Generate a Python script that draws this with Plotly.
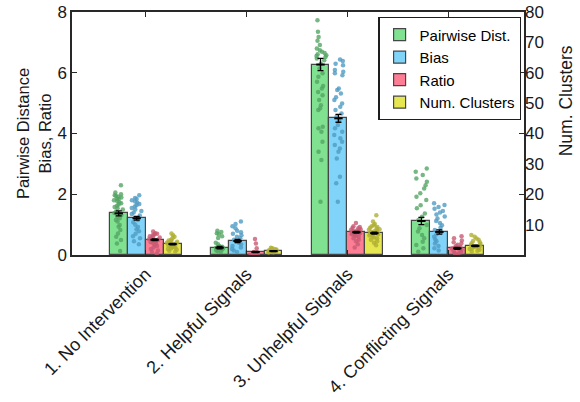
import plotly.graph_objects as go

categories = ["1. No Intervention", "2. Helpful Signals", "3. Unhelpful Signals", "4. Conflicting Signals"]
series_names = ["Pairwise Dist.", "Bias", "Ratio", "Num. Clusters"]

# bar means
pairwise_mean = [1.37, 0.24, 6.27, 1.12]
bias_mean = [1.21, 0.46, 4.50, 0.76]
ratio_mean = [0.50, 0.10, 0.75, 0.22]
clusters_mean = [3.6, 1.3, 7.2, 3.0]

# standard errors
pairwise_err = [0.08, 0.04, 0.20, 0.12]
bias_err = [0.06, 0.05, 0.13, 0.07]
ratio_err = [0.03, 0.02, 0.03, 0.03]
clusters_err = [0.25, 0.15, 0.3, 0.25]

# individual observations per category
pairwise_pts = [
    [2.30, 2.06, 2.00, 1.97, 1.95, 1.92, 1.89, 1.86, 1.84, 1.80, 1.78, 1.74, 1.70, 1.66, 1.62, 1.58, 1.54, 1.50,
     1.43, 1.38, 1.32, 1.26, 1.21, 1.15, 1.10, 0.99, 0.93, 0.82, 0.71, 0.60, 0.49, 0.38, 0.13],
    [0.80, 0.76, 0.72, 0.68, 0.62, 0.56, 0.40, 0.35, 0.30, 0.27, 0.24, 0.22, 0.20, 0.18, 0.15, 0.12, 0.10],
    [7.73, 7.35, 7.18, 7.05, 6.91, 6.80, 6.74, 6.69, 6.65, 6.61, 6.58, 6.55, 6.52, 6.47, 6.41, 6.30, 6.14, 5.98,
     5.87, 5.70, 5.56, 5.48, 5.37, 5.26, 5.10, 4.93, 4.83, 4.77, 4.22, 4.17, 4.06, 3.73, 3.40, 3.13, 1.75],
    [2.85, 2.74, 2.63, 2.52, 2.41, 2.30, 2.19, 2.03, 1.92, 1.81, 1.64, 1.54, 1.37, 1.26, 1.15, 0.99, 0.88, 0.77,
     0.66, 0.55, 0.44, 0.33, 0.22, 0.11],
]
bias_pts = [
    [1.97, 1.88, 1.84, 1.80, 1.76, 1.72, 1.68, 1.64, 1.60, 1.55, 1.50, 1.45, 1.40, 1.35, 1.30, 1.22, 1.15, 1.08,
     1.00, 0.92, 0.85, 0.78, 0.70, 0.62, 0.55, 0.45, 0.35],
    [1.10, 1.02, 0.95, 0.88, 0.80, 0.75, 0.70, 0.65, 0.60, 0.55, 0.50, 0.45, 0.40, 0.35, 0.30, 0.25, 0.20, 0.15, 0.10],
    [6.44, 6.39, 6.30, 6.25, 6.09, 6.03, 5.98, 5.92, 5.48, 5.43, 5.32, 5.19, 5.10, 4.99, 4.88, 4.77, 4.66, 4.55,
     4.44, 4.28, 4.17, 4.06, 3.95, 3.84, 3.73, 3.62, 3.51, 3.40, 3.18, 2.58, 2.36, 1.75],
    [1.70, 1.65, 1.58, 1.52, 1.45, 1.40, 1.33, 1.27, 1.20, 1.12, 1.05, 0.98, 0.90, 0.82, 0.75, 0.68, 0.60, 0.52,
     0.45, 0.38, 0.30, 0.22, 0.15],
]
ratio_pts = [
    [0.77, 0.72, 0.70, 0.68, 0.65, 0.62, 0.60, 0.58, 0.55, 0.52, 0.50, 0.48, 0.45, 0.42, 0.40, 0.37, 0.33, 0.30,
     0.25, 0.20, 0.15, 0.10, 0.05],
    [0.53, 0.38, 0.22, 0.10, 0.08, 0.06, 0.05, 0.04, 0.03, 0.02, 0.02, 0.01],
    [1.05, 0.95, 0.92, 0.90, 0.88, 0.85, 0.83, 0.82, 0.80, 0.78, 0.76, 0.75, 0.74, 0.72, 0.70, 0.68, 0.66, 0.63,
     0.60, 0.55, 0.50, 0.45, 0.35, 0.25],
    [0.62, 0.55, 0.48, 0.42, 0.38, 0.34, 0.30, 0.27, 0.24, 0.21, 0.18, 0.15, 0.12, 0.09, 0.06, 0.03],
]
clusters_pts = [
    [7.1, 6.5, 6.0, 5.5, 5.0, 4.8, 4.6, 4.4, 4.2, 4.0, 3.8, 3.6, 3.4, 3.2, 3.0, 2.8, 2.6, 2.4, 2.2, 2.0, 1.7, 1.4, 1.1],
    [2.4, 2.2, 2.0, 1.8, 1.6, 1.5, 1.4, 1.3, 1.2, 1.1, 1.0, 0.9, 0.8],
    [13.1, 11.0, 10.2, 9.8, 9.5, 9.2, 9.0, 8.7, 8.5, 8.3, 8.0, 7.8, 7.6, 7.4, 7.2, 7.0, 6.8, 6.6, 6.4, 6.1, 5.8,
     5.5, 5.0, 4.5, 4.0, 3.2],
    [6.6, 6.0, 5.4, 5.0, 4.6, 4.2, 3.9, 3.6, 3.3, 3.0, 2.8, 2.6, 2.4, 2.2, 2.0, 1.7, 1.4, 1.1],
]

left_ticks = [0, 2, 4, 6, 8]
right_ticks = [10, 20, 30, 40, 50, 60, 70, 80]

fills = ["rgb(128,225,145)", "rgb(128,212,250)", "rgb(252,125,148)", "rgb(230,230,80)"]
dots = ["rgba(85,165,100,0.8)", "rgba(80,155,195,0.8)", "rgba(200,90,115,0.8)", "rgba(175,175,50,0.8)"]

means = [pairwise_mean, bias_mean, ratio_mean, clusters_mean]
errs = [pairwise_err, bias_err, ratio_err, clusters_err]
pts = [pairwise_pts, bias_pts, ratio_pts, clusters_pts]
axes = ["y", "y", "y", "y2"]

bw = 0.178
offsets = [-2 * bw, -bw, 0.0, bw]
xc = [1, 2, 3, 4]

fig = go.Figure()
for k in range(4):
    fig.add_trace(go.Bar(
        x=xc, y=means[k], name=series_names[k], yaxis=axes[k],
        width=bw, offset=offsets[k],
        marker=dict(color=fills[k], line=dict(color="rgb(70,70,70)", width=1.2)),
    ))

for k in range(4):
    bx, by = [], []
    for i in range(4):
        for v in pts[k][i]:
            bx.append(xc[i] + offsets[k] + bw / 2)
            by.append(v)
    fig.add_trace(go.Box(
        x=bx, y=by, yaxis=axes[k], boxpoints="all", jitter=0.9, pointpos=0,
        width=0.13, line=dict(width=0, color="rgba(0,0,0,0)"), fillcolor="rgba(0,0,0,0)",
        marker=dict(color=dots[k], size=4.5), showlegend=False, hoverinfo="skip",
    ))

for k in range(4):
    fig.add_trace(go.Scatter(
        x=[xc[i] + offsets[k] + bw / 2 for i in range(4)], y=means[k], yaxis=axes[k],
        mode="markers", marker=dict(symbol="line-ew", size=6, line=dict(color="black", width=2)),
        error_y=dict(type="data", array=errs[k], color="black", thickness=1.3, width=3),
        showlegend=False, hoverinfo="skip",
    ))

font = "Liberation Sans, Arial, sans-serif"
fig.update_layout(
    width=580, height=402,
    margin=dict(l=72, r=56, t=12, b=147, autoexpand=False),
    paper_bgcolor="white", plot_bgcolor="white",
    font=dict(family=font, size=16, color="rgb(25,25,25)"),
    showlegend=True,
    legend=dict(x=0.994, y=0.979, xanchor="right", yanchor="top",
                bgcolor="white", bordercolor="rgb(30,30,30)", borderwidth=1.3,
                font=dict(size=15, color="black"), tracegroupgap=0, itemwidth=30),
    xaxis=dict(range=[0.27, 4.75], tickvals=xc, ticktext=categories, tickangle=-45, automargin=False,
               showline=True, linecolor="rgb(40,40,40)", linewidth=1.5, mirror="ticks",
               ticks="inside", ticklen=5, tickcolor="rgb(40,40,40)", showgrid=False, zeroline=False,
               tickfont=dict(size=18)),
    yaxis=dict(range=[0, 8], tickvals=left_ticks, showline=True, linecolor="rgb(40,40,40)", linewidth=1.5,
               mirror="ticks", ticks="inside", ticklen=5, tickcolor="rgb(40,40,40)", automargin=False,
               showgrid=False, zeroline=False, tickfont=dict(size=17),
               title=dict(text="Pairwise Distance<br>Bias, Ratio", font=dict(size=16.5), standoff=2)),
    yaxis2=dict(range=[0, 80], tickvals=right_ticks, overlaying="y", side="right", showline=False,
                ticks="", showgrid=False, zeroline=False, tickfont=dict(size=17), automargin=False),
    annotations=[dict(text="Num. Clusters", textangle=-90, xref="paper", yref="paper",
                      x=1.092, y=0.635, xanchor="center", yanchor="middle", showarrow=False,
                      font=dict(size=17.5))],
    bargap=0, barmode="overlay",
)

fig.write_html("out.html")
